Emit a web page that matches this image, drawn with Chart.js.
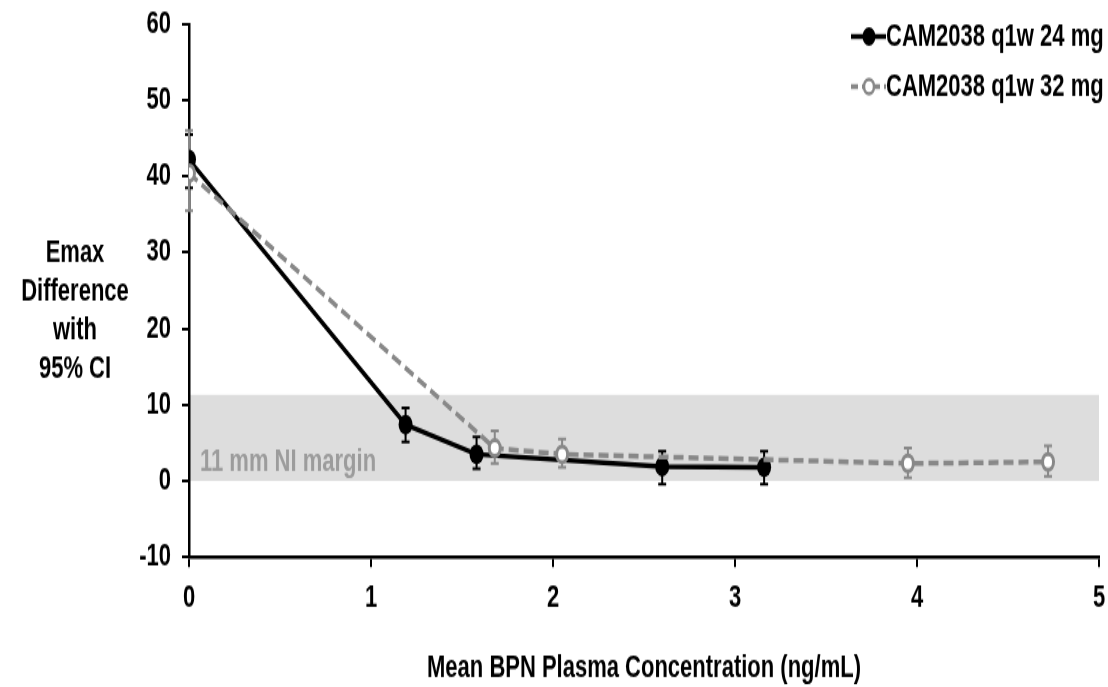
<!DOCTYPE html>
<html>
<head>
<meta charset="utf-8">
<title>Emax difference vs BPN concentration</title>
<script src="https://cdn.jsdelivr.net/npm/chart.js@4.4.1/dist/chart.umd.min.js"></script>
<style>
    html, body { margin: 0; padding: 0; background: #fff; width: 1108px; height: 687px; }
    #page { width: 1108px; height: 687px; position: relative; overflow: hidden; }
    /* the reference is stretched vertically, so the canvas is drawn short and scaled up */
    #wrap { position: absolute; left: 0; top: 0; width: 1108px; height: 480px; transform: scaleY(1.43125); transform-origin: 0 0; }
</style>
</head>
<body>
<div id="page"><div id="wrap"><canvas id="emaxChart" width="1108" height="480"></canvas></div></div>
<script>
// ---- data ----
const conc24 = [0, 1.19, 1.58, 2.6, 3.16];
const emax24 = [42.2, 7.4, 3.5, 1.9, 1.8];
const lo24 = [38.5, 5.1, 1.6, -0.4, -0.4];
const hi24 = [45.5, 9.6, 5.8, 3.9, 3.9];

const conc32 = [0, 1.68, 2.05, 3.95, 4.72];
const emax32 = [40.4, 4.3, 3.5, 2.3, 2.5];
const lo32 = [35.5, 2.3, 1.8, 0.4, 0.6];
const hi32 = [46.0, 6.6, 5.5, 4.3, 4.6];

const seriesLabels = ['CAM2038 q1w 24 mg', 'CAM2038 q1w 32 mg'];
const xTicks = [0, 1, 2, 3, 4, 5];
const yTicks = [-10, 0, 10, 20, 30, 40, 50, 60];
const marginValue = 11.3;
const marginLabel = '11 mm NI margin';
const yTitleLines = ['Emax', 'Difference', 'with', '95% CI'];
const xTitle = 'Mean BPN Plasma Concentration (ng/mL)';

const FONT = "'Liberation Sans', Arial, sans-serif";
const GREY = '#888888';

function pts(xs, ys) {
    return xs.map((v, i) => ({ x: v, y: ys[i] }));
}

// draws band, error bars, axis titles and legend
const extras = {
    id: 'extras',
    beforeDraw(chart) {
        const { ctx, scales: { x, y } } = chart;
        ctx.save();
        // NI margin band
        const x0 = x.getPixelForValue(xTicks[0]);
        const x1 = x.getPixelForValue(xTicks[xTicks.length - 1]);
        const yTop = y.getPixelForValue(marginValue);
        const yBot = y.getPixelForValue(0);
        ctx.fillStyle = '#dddddd';
        ctx.fillRect(x0, yTop, x1 - x0, yBot - yTop);

        ctx.fillStyle = '#9c9c9c';
        ctx.font = 'bold 22px ' + FONT;
        ctx.textBaseline = 'middle';
        ctx.textAlign = 'left';
        ctx.fillText(marginLabel, x0 + 11, y.getPixelForValue(2.5));

        // y title, horizontal lines
        ctx.fillStyle = '#000';
        ctx.textAlign = 'center';
        yTitleLines.forEach((t, i) => ctx.fillText(t, 75, 177 + i * 27));

        // x title
        ctx.fillText(xTitle, (chart.chartArea.left + chart.chartArea.right) / 2, 467);

        // legend
        const rows = [25.5, 60.5];
        ctx.textAlign = 'left';
        seriesLabels.forEach((t, i) => ctx.fillText(t, 886, rows[i]));

        ctx.lineWidth = 3.5;
        ctx.strokeStyle = '#000';
        ctx.beginPath(); ctx.moveTo(851, rows[0]); ctx.lineTo(886, rows[0]); ctx.stroke();
        ctx.fillStyle = '#000';
        ctx.beginPath(); ctx.arc(869, rows[0], 6.5, 0, Math.PI * 2); ctx.fill();

        ctx.strokeStyle = GREY;
        ctx.setLineDash([7, 4]);
        ctx.beginPath(); ctx.moveTo(851, rows[1]); ctx.lineTo(886, rows[1]); ctx.stroke();
        ctx.setLineDash([]);
        ctx.lineWidth = 2.5;
        ctx.fillStyle = '#fff';
        ctx.beginPath(); ctx.arc(869, rows[1], 5, 0, Math.PI * 2); ctx.fill(); ctx.stroke();
        ctx.restore();
    },
    beforeDatasetsDraw(chart) {
        const { ctx, scales: { x, y } } = chart;
        const bars = (xs, lo, hi, color) => {
            ctx.strokeStyle = color;
            ctx.lineWidth = 2;
            xs.forEach((v, i) => {
                const px = x.getPixelForValue(v);
                const a = y.getPixelForValue(hi[i]);
                const b = y.getPixelForValue(lo[i]);
                ctx.beginPath();
                ctx.moveTo(px, a); ctx.lineTo(px, b);
                ctx.moveTo(px - 4, a); ctx.lineTo(px + 4, a);
                ctx.moveTo(px - 4, b); ctx.lineTo(px + 4, b);
                ctx.stroke();
            });
        };
        ctx.save();
        bars(conc24, lo24, hi24, '#000');
        bars(conc32, lo32, hi32, GREY);
        ctx.restore();
    }
};

const tickFont = { family: FONT, size: 22, weight: 'bold' };

new Chart(document.getElementById('emaxChart'), {
    type: 'line',
    data: {
        datasets: [
            {
                label: seriesLabels[0],
                data: pts(conc24, emax24),
                borderColor: '#000',
                backgroundColor: '#000',
                borderWidth: 3.5,
                pointRadius: 7,
                pointBorderWidth: 0,
                pointBackgroundColor: '#000',
                tension: 0,
                order: 1
            },
            {
                label: seriesLabels[1],
                data: pts(conc32, emax32),
                borderColor: GREY,
                borderWidth: 3.5,
                borderDash: [10, 5],
                pointRadius: 5.5,
                pointBorderWidth: 3,
                pointBorderColor: GREY,
                pointBackgroundColor: '#fff',
                tension: 0,
                order: 0
            }
        ]
    },
    options: {
        responsive: false,
        animation: false,
        events: [],
        layout: { padding: { top: 16.8, right: 9, left: 0, bottom: 0 } },
        plugins: {
            legend: { display: false },
            tooltip: { enabled: false }
        },
        scales: {
            x: {
                type: 'linear',
                min: xTicks[0],
                max: xTicks[xTicks.length - 1],
                afterBuildTicks: s => { s.ticks = xTicks.map(v => ({ value: v })); },
                afterFit: s => { s.height = 90.8; s.paddingLeft = 0; s.paddingRight = 0; },
                ticks: { color: '#000', font: tickFont, padding: 9, maxRotation: 0 },
                grid: { drawOnChartArea: false, color: '#000', lineWidth: 2, tickLength: 7 },
                border: { color: '#000', width: 2.5 }
            },
            y: {
                min: yTicks[0],
                max: yTicks[yTicks.length - 1],
                afterBuildTicks: s => { s.ticks = yTicks.map(v => ({ value: v })); },
                afterFit: s => { s.width = 189; s.paddingTop = 0; s.paddingBottom = 0; },
                ticks: { color: '#000', font: tickFont, padding: 11 },
                grid: { drawOnChartArea: false, color: '#000', lineWidth: 2, tickLength: 7 },
                border: { color: '#000', width: 2.5 }
            }
        }
    },
    plugins: [extras]
});
</script>
</body>
</html>
